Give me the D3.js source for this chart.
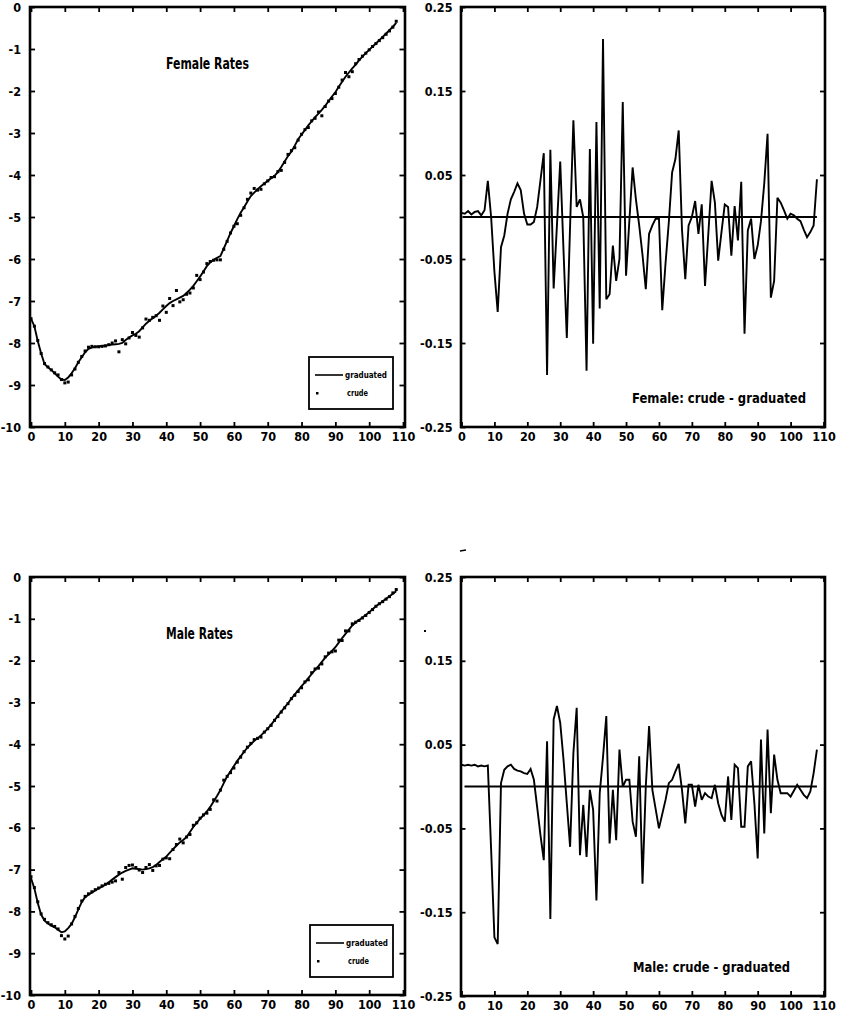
<!DOCTYPE html>
<html><head><meta charset="utf-8">
<script src="https://cdn.jsdelivr.net/npm/d3@7/dist/d3.min.js"></script>
<style>
html,body{margin:0;padding:0;background:#fff;}
svg{display:block;}
text{font-family:"DejaVu Sans Condensed","Liberation Sans Narrow","Arial Narrow",sans-serif;font-weight:bold;fill:#000;}
</style></head>
<body>
<svg id="chart" width="841" height="1029"></svg>
<script>
const ages = [0,1,2,3,4,5,6,7,8,9,10,11,12,13,14,15,16,17,18,19,20,21,22,23,24,25,26,27,28,29,30,31,32,33,34,35,36,37,38,39,40,41,42,43,44,45,46,47,48,49,50,51,52,53,54,55,56,57,58,59,60,61,62,63,64,65,66,67,68,69,70,71,72,73,74,75,76,77,78,79,80,81,82,83,84,85,86,87,88,89,90,91,92,93,94,95,96,97,98,99,100,101,102,103,104,105,106,107,108];

const femaleGraduated = [-7.42,-7.6,-7.95,-8.25,-8.5,-8.58,-8.64,-8.72,-8.8,-8.87,
-8.88,-8.82,-8.72,-8.6,-8.46,-8.34,-8.22,-8.14,-8.11,-8.09,
-8.08,-8.07,-8.06,-8.05,-8.04,-8.03,-8.02,-8.0,-7.93,-7.87,
-7.82,-7.78,-7.72,-7.63,-7.54,-7.47,-7.41,-7.35,-7.28,-7.2,
-7.12,-7.05,-7.0,-6.96,-6.92,-6.88,-6.81,-6.73,-6.64,-6.53,
-6.42,-6.3,-6.17,-6.08,-6.02,-5.97,-5.93,-5.75,-5.57,-5.38,
-5.22,-5.05,-4.9,-4.77,-4.63,-4.5,-4.42,-4.34,-4.27,-4.2,
-4.14,-4.08,-4.02,-3.93,-3.81,-3.68,-3.55,-3.44,-3.3,-3.15,
-3.04,-2.93,-2.82,-2.72,-2.62,-2.54,-2.45,-2.35,-2.24,-2.13,
-2.03,-1.9,-1.78,-1.66,-1.56,-1.46,-1.37,-1.27,-1.18,-1.1,
-1.02,-0.94,-0.87,-0.79,-0.71,-0.63,-0.55,-0.47,-0.38];

const femaleCrude = [-7.42,-7.60,-7.94,-8.25,-8.49,-8.57,-8.64,-8.71,-8.76,-8.87,
-8.95,-8.93,-8.76,-8.62,-8.46,-8.32,-8.19,-8.10,-8.08,-8.09,
-8.09,-8.08,-8.07,-8.04,-8.00,-7.95,-8.21,-7.92,-8.02,-7.88,
-7.75,-7.82,-7.86,-7.64,-7.43,-7.46,-7.39,-7.35,-7.46,-7.12,
-7.27,-6.94,-7.11,-6.75,-7.02,-6.97,-6.84,-6.81,-6.69,-6.39,
-6.49,-6.31,-6.11,-6.06,-6.03,-6.02,-6.02,-5.77,-5.58,-5.38,
-5.22,-5.16,-4.96,-4.78,-4.58,-4.43,-4.32,-4.36,-4.34,-4.21,
-4.14,-4.06,-4.04,-3.92,-3.89,-3.70,-3.51,-3.42,-3.35,-3.17,
-3.03,-2.92,-2.87,-2.71,-2.65,-2.50,-2.59,-2.37,-2.24,-2.18,
-2.06,-1.91,-1.74,-1.56,-1.66,-1.54,-1.35,-1.25,-1.17,-1.10,
-1.02,-0.94,-0.87,-0.80,-0.73,-0.65,-0.57,-0.48,-0.34];

const maleGraduated = [-7.2,-7.45,-7.8,-8.08,-8.22,-8.29,-8.34,-8.38,-8.44,-8.5,
-8.48,-8.4,-8.3,-8.14,-7.95,-7.78,-7.66,-7.6,-7.55,-7.5,
-7.45,-7.41,-7.36,-7.3,-7.24,-7.18,-7.12,-7.07,-7.03,-7.0,
-6.97,-6.98,-6.99,-7.0,-6.99,-6.97,-6.94,-6.89,-6.82,-6.75,
-6.69,-6.6,-6.51,-6.43,-6.35,-6.29,-6.22,-6.1,-5.98,-5.88,
-5.78,-5.7,-5.61,-5.5,-5.37,-5.24,-5.1,-4.93,-4.77,-4.65,
-4.52,-4.4,-4.29,-4.18,-4.08,-4.0,-3.92,-3.86,-3.79,-3.71,
-3.63,-3.53,-3.43,-3.32,-3.22,-3.12,-3.02,-2.91,-2.81,-2.71,
-2.61,-2.52,-2.42,-2.32,-2.22,-2.13,-2.03,-1.93,-1.85,-1.77,
-1.68,-1.57,-1.46,-1.36,-1.26,-1.16,-1.09,-1.03,-0.97,-0.91,
-0.84,-0.77,-0.7,-0.64,-0.58,-0.52,-0.46,-0.4,-0.34];

const maleCrude = [-7.17,-7.43,-7.77,-8.06,-8.19,-8.27,-8.32,-8.36,-8.42,-8.58,
-8.66,-8.59,-8.30,-8.12,-7.93,-7.75,-7.64,-7.58,-7.53,-7.48,
-7.44,-7.39,-7.35,-7.33,-7.30,-7.27,-7.07,-7.23,-6.95,-6.90,
-6.89,-6.95,-7.01,-7.07,-6.95,-6.88,-7.02,-6.91,-6.90,-6.75,
-6.72,-6.74,-6.52,-6.40,-6.27,-6.36,-6.22,-6.16,-5.94,-5.88,
-5.77,-5.69,-5.65,-5.56,-5.33,-5.36,-5.10,-4.86,-4.77,-4.68,
-4.57,-4.43,-4.31,-4.18,-4.07,-3.98,-3.89,-3.86,-3.83,-3.71,
-3.63,-3.55,-3.43,-3.34,-3.23,-3.13,-3.03,-2.91,-2.83,-2.74,
-2.65,-2.51,-2.46,-2.29,-2.20,-2.18,-2.08,-1.91,-1.82,-1.79,
-1.77,-1.51,-1.52,-1.29,-1.29,-1.12,-1.08,-1.04,-0.98,-0.92,
-0.85,-0.78,-0.70,-0.64,-0.59,-0.53,-0.47,-0.38,-0.30];

const femaleResidual = [0.005,0.004,0.007,0.003,0.006,0.007,0.002,0.008,0.043,0.0,
-0.065,-0.113,-0.036,-0.022,0.004,0.021,0.03,0.04,0.032,0.004,
-0.009,-0.009,-0.006,0.012,0.044,0.076,-0.188,0.08,-0.085,-0.01,
0.066,-0.04,-0.144,-0.01,0.115,0.012,0.021,0.0,-0.183,0.081,
-0.151,0.113,-0.109,0.212,-0.098,-0.092,-0.034,-0.076,-0.05,0.137,
-0.07,-0.005,0.059,0.021,-0.01,-0.045,-0.086,-0.02,-0.01,-0.002,
-0.002,-0.111,-0.055,-0.006,0.053,0.069,0.103,-0.015,-0.074,-0.01,
0.0,0.019,-0.02,0.015,-0.082,-0.02,0.043,0.017,-0.052,-0.018,
0.015,0.012,-0.046,0.013,-0.028,0.042,-0.139,-0.016,-0.002,-0.05,
-0.034,-0.005,0.04,0.099,-0.096,-0.076,0.023,0.017,0.008,-0.002,
0.004,0.002,-0.002,-0.005,-0.015,-0.024,-0.018,-0.01,0.045];

const maleResidual = [0.026,0.025,0.026,0.025,0.026,0.024,0.025,0.024,0.025,-0.075,
-0.18,-0.188,0.004,0.02,0.024,0.026,0.021,0.019,0.018,0.016,
0.015,0.021,0.008,-0.025,-0.058,-0.088,0.054,-0.158,0.08,0.096,
0.076,0.032,-0.02,-0.072,0.04,0.094,-0.082,-0.022,-0.084,-0.004,
-0.028,-0.136,-0.008,0.035,0.084,-0.068,-0.004,-0.064,0.044,0.0,
0.008,0.008,-0.042,-0.06,0.036,-0.116,0.0,0.072,-0.004,-0.027,
-0.05,-0.033,-0.016,0.004,0.008,0.018,0.027,-0.004,-0.044,0.002,
0.002,-0.024,0.002,-0.016,-0.008,-0.012,-0.014,0.002,-0.02,-0.034,
-0.042,0.012,-0.04,0.026,0.022,-0.048,-0.048,0.024,0.03,-0.02,
-0.086,0.056,-0.056,0.068,-0.032,0.038,0.008,-0.008,-0.008,-0.008,
-0.012,-0.005,0.002,-0.004,-0.01,-0.014,-0.006,0.016,0.044];

const ageTicks = [0,10,20,30,40,50,60,70,80,90,100,110];
const rateTicks = [0,-1,-2,-3,-4,-5,-6,-7,-8,-9,-10];
const residTicks = [0.25,0.15,0.05,-0.05,-0.15,-0.25];
const residTickLabels = ["0.25","0.15","0.05","-0.05","-0.15","-0.25"];
const zeroLine = [0,108];
const legendLabels = ["graduated","crude"];

const svg = d3.select("#chart");

function drawAxes(g, x, y, yTicks, yFmt, yPad) {
  const xb = g.append("g").attr("transform", `translate(0,${y.range()[0]})`)
    .call(d3.axisBottom(x).tickValues(ageTicks).tickSizeInner(-5).tickSizeOuter(0).tickPadding(5).tickFormat(d=>String(d)));
  const xt = g.append("g").attr("transform", `translate(0,${y.range()[1]})`)
    .call(d3.axisTop(x).tickValues(ageTicks).tickSizeInner(-5).tickSizeOuter(0).tickFormat(""));
  const yl = g.append("g").attr("transform", `translate(${x.range()[0]-1},0)`)
    .call(d3.axisLeft(y).tickValues(yTicks).tickSizeInner(-5).tickSizeOuter(0).tickPadding(yPad).tickFormat(yFmt));
  const yr = g.append("g").attr("transform", `translate(${x.range()[1]+1.5},0)`)
    .call(d3.axisRight(y).tickValues(yTicks).tickSizeInner(-5).tickSizeOuter(0).tickFormat(""));
  [xb,xt,yl,yr].forEach(a=>{
    a.select(".domain").remove();
    a.selectAll(".tick line").attr("stroke","#000").attr("stroke-width",1.8);
    a.selectAll("text").attr("font-size",12.5).style("font-family",null);
  });
}

function frame(g, x0, x1, y0, y1) {
  g.append("rect").attr("x",x0).attr("y",y0).attr("width",x1-x0).attr("height",y1-y0)
    .attr("fill","none").attr("stroke","#000").attr("stroke-width",2.6);
}

function ratePanel(cfg) {
  const g = svg.append("g");
  const x = d3.scaleLinear().domain([0,110]).range([cfg.x0+1, cfg.x1-2]);
  const y = d3.scaleLinear().domain([-10,0]).range([cfg.y1, cfg.y0]);
  frame(g, cfg.x0, cfg.x1, cfg.y0, cfg.y1);
  drawAxes(g, x, y, rateTicks, d=>String(d), 9);
  const line = d3.line().x((d,i)=>x(ages[i])).y(d=>y(d));
  g.append("path").datum(cfg.grad).attr("d",line).attr("fill","none").attr("stroke","#000").attr("stroke-width",1.9);
  g.append("g").selectAll("rect").data(cfg.crude).join("rect")
    .attr("x",(d,i)=>x(ages[i])-1.5).attr("y",d=>y(d)-1.5).attr("width",3).attr("height",3).attr("fill","#000");
  g.append("text").attr("x",cfg.titleX).attr("y",cfg.titleY).attr("font-size",15)
    .attr("textLength",cfg.titleW).attr("lengthAdjust","spacingAndGlyphs").text(cfg.title);
  // legend
  const L = cfg.legend;
  g.append("rect").attr("x",L.x).attr("y",L.y).attr("width",L.w).attr("height",L.h)
    .attr("fill","#fff").attr("stroke","#000").attr("stroke-width",1.8);
  g.append("line").attr("x1",L.x+6).attr("x2",L.x+34).attr("y1",L.y+18).attr("y2",L.y+18)
    .attr("stroke","#000").attr("stroke-width",1.6);
  g.append("rect").attr("x",L.x+7).attr("y",L.y+35).attr("width",2.5).attr("height",2.5).attr("fill","#000");
  g.append("text").attr("x",L.x+36).attr("y",L.y+21).attr("font-size",8)
    .attr("textLength",42).attr("lengthAdjust","spacingAndGlyphs").text(legendLabels[0]);
  g.append("text").attr("x",L.x+38).attr("y",L.y+39).attr("font-size",8)
    .attr("textLength",21).attr("lengthAdjust","spacingAndGlyphs").text(legendLabels[1]);
}

function residPanel(cfg) {
  const g = svg.append("g");
  const x = d3.scaleLinear().domain([0,110]).range([cfg.x0+0.5, cfg.x1-1.5]);
  const y = d3.scaleLinear().domain([-0.25,0.25]).range([cfg.y1, cfg.y0]);
  frame(g, cfg.x0, cfg.x1, cfg.y0, cfg.y1);
  drawAxes(g, x, y, residTicks, (d,i)=>residTickLabels[i], 8);
  g.append("line").attr("x1",x(zeroLine[0])+cfg.zoff).attr("x2",x(zeroLine[1])).attr("y1",y(0)).attr("y2",y(0))
    .attr("stroke","#000").attr("stroke-width",1.8);
  const line = d3.line().x((d,i)=>x(ages[i])).y(d=>y(d));
  g.append("path").datum(cfg.resid).attr("d",line).attr("fill","none").attr("stroke","#000")
    .attr("stroke-width",1.9).attr("stroke-linejoin","miter").attr("stroke-miterlimit",3);
  g.append("text").attr("x",cfg.titleX).attr("y",cfg.titleY).attr("font-size",14)
    .attr("textLength",cfg.titleW).attr("lengthAdjust","spacingAndGlyphs").text(cfg.title);
}

ratePanel({x0:30,x1:405,y0:7,y1:427,grad:femaleGraduated,crude:femaleCrude,
  title:"Female Rates",titleX:166,titleY:69,titleW:83,legend:{x:309,y:357,w:84,h:52}});
ratePanel({x0:30,x1:405,y0:577,y1:995,grad:maleGraduated,crude:maleCrude,
  title:"Male Rates",titleX:166,titleY:639,titleW:67,legend:{x:310,y:925,w:83,h:52}});
residPanel({x0:461,x1:825,y0:7,y1:427,resid:femaleResidual,zoff:1,
  title:"Female: crude - graduated",titleX:632,titleY:403,titleW:174});
residPanel({x0:461,x1:825,y0:577,y1:996,resid:maleResidual,zoff:3,
  title:"Male: crude - graduated",titleX:633,titleY:972,titleW:157});

// small scan marks present in the original
svg.append("line").attr("x1",460).attr("x2",466).attr("y1",551).attr("y2",550).attr("stroke","#000").attr("stroke-width",1.5);
svg.append("rect").attr("x",424).attr("y",630).attr("width",2).attr("height",2).attr("fill","#000");
</script>
</body></html>
